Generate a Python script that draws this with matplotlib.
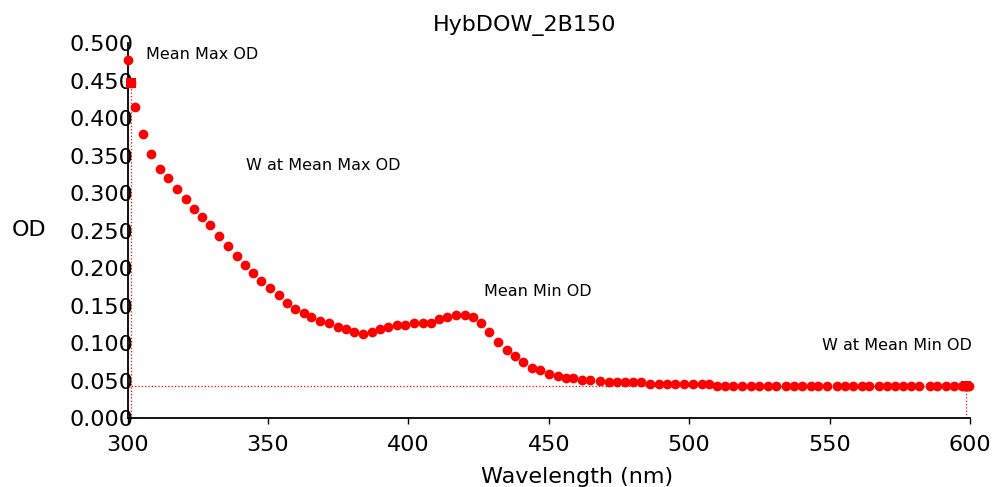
import numpy as np
import matplotlib
matplotlib.use('Agg')
import matplotlib.pyplot as plt

# spectrum
wavelength = [300.0, 301.2, 302.8, 305.5, 308.5, 311.5, 314.5, 317.8, 320.8, 323.7,
              326.7, 329.5, 332.5, 335.9, 339.0, 341.8, 344.8, 347.7, 350.9, 353.9,
              356.9, 359.7, 362.7, 365.5, 368.7, 371.9, 374.9, 377.9, 380.7, 384.0,
              387.0, 390.0, 392.9, 395.9, 398.7, 402.1, 405.1, 408.0, 410.8, 413.7,
              417.1, 420.0, 423.0, 426.0, 428.8, 431.8, 435.1, 438.1, 441.0, 444.0,
              447.0, 450.1, 453.3, 456.2, 458.8, 461.8, 464.8, 468.3, 471.3, 474.3,
              477.0, 480.0, 482.9, 486.2, 489.1, 492.1, 495.0, 498.0, 501.4, 504.4,
              507.2, 510.0, 512.8, 515.7, 518.9, 521.9, 525.0, 528.0, 530.9, 534.5,
              537.3, 540.3, 543.4, 546.0, 549.0, 552.5, 555.5, 558.5, 561.5, 564.2,
              567.6, 570.4, 573.3, 576.3, 579.1, 582.0, 585.6, 588.4, 591.5, 594.4,
              597.3, 598.0, 598.6, 599.2, 599.8]
od = [0.478, 0.4475, 0.4155, 0.379, 0.352, 0.333, 0.320, 0.306, 0.2925, 0.2787,
      0.269, 0.258, 0.243, 0.2297, 0.216, 0.2048, 0.194, 0.183, 0.1733, 0.1644,
      0.154, 0.1453, 0.140, 0.1355, 0.1293, 0.1267, 0.1213, 0.1187, 0.1155, 0.1124,
      0.1155, 0.1187, 0.1213, 0.1244, 0.1244, 0.1267, 0.1267, 0.1267, 0.132, 0.1355,
      0.1377, 0.1377, 0.1355, 0.1267, 0.1155, 0.1021, 0.0911, 0.0831, 0.0755, 0.0667,
      0.0640, 0.0585, 0.0564, 0.0533, 0.0533, 0.0505, 0.0505, 0.0500, 0.048, 0.048,
      0.048, 0.048, 0.048, 0.0455, 0.0455, 0.0455, 0.0455, 0.0455, 0.0455, 0.0455,
      0.0455, 0.043, 0.043, 0.043, 0.043, 0.043, 0.043, 0.043, 0.043, 0.043,
      0.043, 0.043, 0.043, 0.043, 0.043, 0.043, 0.043, 0.043, 0.043, 0.043,
      0.043, 0.043, 0.043, 0.043, 0.043, 0.043, 0.043, 0.043, 0.043, 0.043,
      0.043, 0.043, 0.043, 0.043, 0.043]

# markers for mean max / mean min
w_max, od_max = 301.2, 0.4475
w_min, od_min = 598.6, 0.0425

x_ticks = [300, 350, 400, 450, 500, 550, 600]
y_ticks = [0.0, 0.05, 0.1, 0.15, 0.2, 0.25, 0.3, 0.35, 0.4, 0.45, 0.5]

plt.rcParams['font.family'] = 'DejaVu Sans'
fig = plt.figure(figsize=(9.99, 4.87), dpi=100)
ax = fig.add_axes([127.5/999, 68.7/487, (970-127.5)/999, (418.3-43.3)/487])

ax.plot(wavelength, od, 'o', color='red', markersize=7, markeredgewidth=0, clip_on=False, zorder=3)
ax.plot([w_max], [od_max], 's', color='red', markersize=7, markeredgewidth=0, clip_on=False, zorder=4)
ax.plot([w_min], [od_min], 's', color='red', markersize=7, markeredgewidth=0, clip_on=False, zorder=4)

# dotted guide lines
ax.plot([w_max, w_max], [0, od_max], ':', color='red', linewidth=0.9, zorder=2)
ax.plot([300, w_min], [od_min, od_min], ':', color='red', linewidth=0.9, zorder=2)
ax.plot([w_min, w_min], [0, od_min], ':', color='red', linewidth=0.9, zorder=2)

ax.set_xlim(300, 600)
ax.set_ylim(0, 0.5)
ax.set_xticks(x_ticks)
ax.set_yticks(y_ticks)
ax.set_yticklabels(['%.3f' % v for v in y_ticks])

for s in ['top', 'right']:
    ax.spines[s].set_visible(False)
for s in ['left', 'bottom']:
    ax.spines[s].set_linewidth(1.3)
ax.tick_params(axis='x', direction='out', length=4.3, width=1, labelsize=16, pad=8)
ax.tick_params(axis='y', length=0, labelsize=16, pad=-4.5)

ax.text(306.6, 0.4844, 'Mean Max OD', fontsize=11.5, va='center', ha='left')
ax.text(342.2, 0.3377, 'W at Mean Max OD', fontsize=11.5, va='center', ha='left')
ax.text(427.1, 0.1697, 'Mean Min OD', fontsize=11.5, va='center', ha='left')
ax.text(547.2, 0.0977, 'W at Mean Min OD', fontsize=11.5, va='center', ha='left')

fig.text(525/999, 1 - 25/487, 'HybDOW_2B150', fontsize=16, ha='center', va='center')
fig.text(29/999, 1 - 230/487, 'OD', fontsize=16, ha='center', va='center')
fig.text(577/999, 1 - 477/487, 'Wavelength (nm)', fontsize=16, ha='center', va='center')

fig.savefig('out.png', dpi=100)
